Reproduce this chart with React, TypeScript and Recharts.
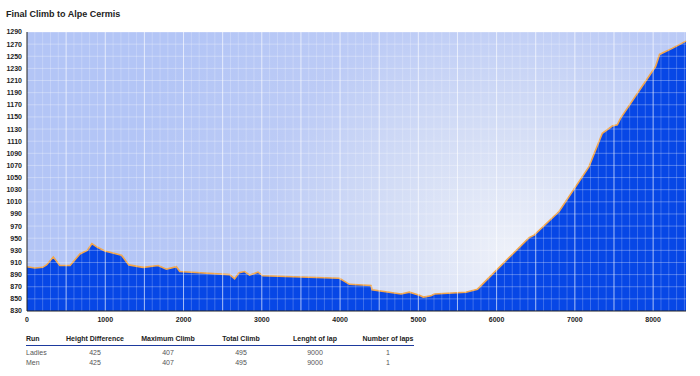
import { AreaChart, Area, XAxis, YAxis, CartesianGrid, ReferenceLine } from "recharts";

// distance (m) / altitude (m) read from the profile
const distance = [
  0, 100, 200, 250, 336, 420, 550, 676, 770, 829, 900, 995, 1208, 1301, 1484, 1675, 1781, 1909, 1952,
  2589, 2653, 2708, 2781, 2844, 2951, 3014, 3992, 4120, 4396, 4409, 4779, 4885, 5013, 5064, 5161, 5204,
  5608, 5756, 6416, 6480, 6798, 7181, 7351, 7478, 7542, 7585, 8031, 8082, 8244, 8420,
];
const altitude = [
  903, 901, 902, 906, 919, 905, 905, 924, 930, 941, 935, 929, 922, 906, 902, 905, 899, 903, 895,
  890, 883, 893, 895, 889, 894, 888, 884, 874, 872, 865, 858, 861, 856, 853, 855, 858,
  861, 866, 951, 955, 994, 1068, 1123, 1135, 1137, 1148, 1233, 1253, 1263, 1275,
];

const xTicks = [0, 1000, 2000, 3000, 4000, 5000, 6000, 7000, 8000];
const yTicks = Array.from({ length: 24 }, (_, i) => 830 + i * 20);
const xMinor = Array.from({ length: 85 }, (_, i) => i * 100);

const columns = ["Run", "Height Difference", "Maximum Climb", "Total Climb", "Lenght of lap", "Number of laps"];
const runs = ["Ladies", "Men"];
const heightDiff = [425, 425];
const maxClimb = [407, 407];
const totalClimb = [495, 495];
const lapLength = [9000, 9000];
const laps = [1, 1];

const data = distance.map((d, i) => ({ d, alt: altitude[i] }));

const FONT = "Arial, 'Liberation Sans', sans-serif";
const colX = [26, 95, 168, 241, 315, 388];

export default function App() {
  const rows = runs.map((r, i) => [r, heightDiff[i], maxClimb[i], totalClimb[i], lapLength[i], laps[i]]);
  return (
    <div style={{ position: "fixed", left: 0, top: 0, width: 700, height: 376, background: "#fff", fontFamily: FONT }}>
      <div style={{ position: "absolute", left: 6, top: 9, fontSize: 9, fontWeight: "bold", color: "#222" }}>
        Final Climb to Alpe Cermis
      </div>
      <div style={{ position: "absolute", left: 0, top: 0 }}>
        <AreaChart width={700} height={330} data={data} margin={{ top: 32, right: 14, left: 0, bottom: 0 }}>
          <defs>
            <radialGradient id="bg" gradientUnits="userSpaceOnUse" cx={510} cy={255} r={390}>
              <stop offset="0" stopColor="#eef1f9" />
              <stop offset="0.3" stopColor="#d6dff6" />
              <stop offset="0.65" stopColor="#bccbf6" />
              <stop offset="1" stopColor="#b3c5f6" />
            </radialGradient>
          </defs>
          <CartesianGrid horizontal={false} vertical={false} fill="url(#bg)" fillOpacity={1} />
          <XAxis
            dataKey="d"
            type="number"
            domain={[0, 8420]}
            ticks={xTicks}
            tickSize={0}
            tickMargin={6}
            height={19}
            axisLine={{ stroke: "#222", strokeWidth: 1 }}
            tick={{ fontSize: 7, fontWeight: "bold", fill: "#222", fontFamily: FONT }}
          />
          <YAxis
            type="number"
            domain={[830, 1290]}
            ticks={yTicks}
            interval={0}
            tickSize={0}
            tickMargin={5}
            width={27}
            axisLine={{ stroke: "#222", strokeWidth: 1 }}
            tick={{ fontSize: 7, fontWeight: "bold", fill: "#222", fontFamily: FONT }}
          />
          <Area
            type="linear"
            dataKey="alt"
            stroke="#f2a64c"
            strokeWidth={1.6}
            fill="#0747e6"
            fillOpacity={1}
            isAnimationActive={false}
            dot={false}
            activeDot={false}
          />
          {yTicks.slice(1).map((v) => (
            <ReferenceLine key={"h" + v} y={v} stroke="#ffffff" strokeOpacity={0.3} strokeWidth={1} />
          ))}
          {xMinor.slice(1).map((v) => (
            <ReferenceLine
              key={"v" + v}
              x={v}
              stroke="#ffffff"
              strokeOpacity={v % 500 === 0 ? 0.65 : 0.22}
              strokeWidth={1}
            />
          ))}
        </AreaChart>
      </div>
      <div style={{ position: "absolute", left: 26, top: 344.5, width: 388, height: 1.5, background: "#1d3a9e" }} />
      {columns.map((c, j) => (
        <div
          key={c}
          style={{
            position: "absolute",
            left: colX[j],
            top: 335,
            fontSize: 7,
            fontWeight: "bold",
            color: "#222",
            whiteSpace: "nowrap",
            transform: j === 0 ? "none" : "translateX(-50%)",
          }}
        >
          {c}
        </div>
      ))}
      {rows.map((row, i) =>
        row.map((v, j) => (
          <div
            key={i + "-" + j}
            style={{
              position: "absolute",
              left: colX[j],
              top: 349 + i * 10,
              fontSize: 7,
              color: "#555",
              whiteSpace: "nowrap",
              transform: j === 0 ? "none" : "translateX(-50%)",
            }}
          >
            {v}
          </div>
        ))
      )}
    </div>
  );
}
